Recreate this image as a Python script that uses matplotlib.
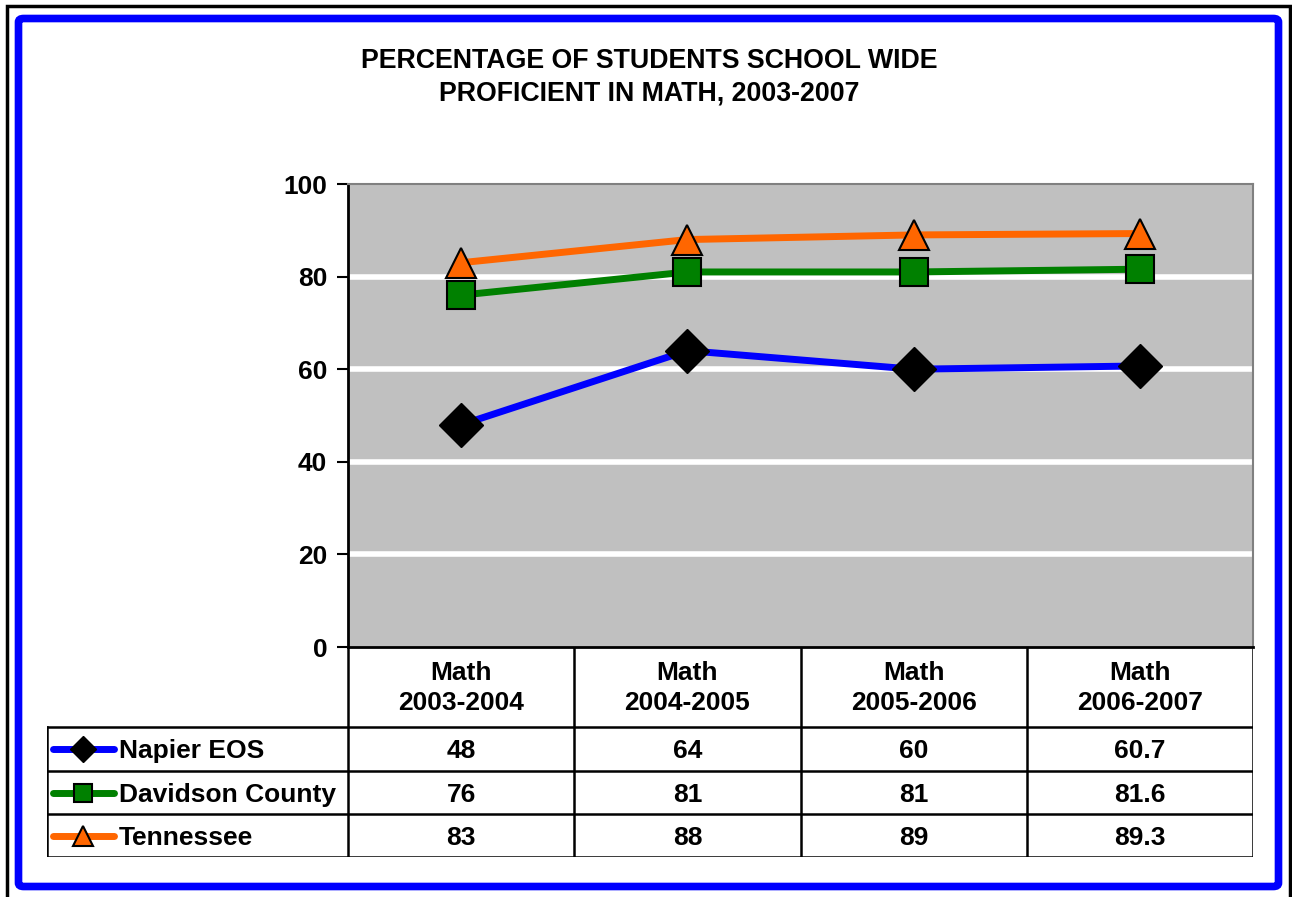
import numpy as np
import matplotlib.pyplot as plt
from matplotlib.patches import FancyBboxPatch, Rectangle
from matplotlib.lines import Line2D

plt.rcParams['font.family'] = ['Liberation Sans', 'DejaVu Sans']
plt.rcParams['font.weight'] = 'bold'

# data
categories = ['Math\n2003-2004', 'Math\n2004-2005', 'Math\n2005-2006', 'Math\n2006-2007']
series_names = ['Napier EOS', 'Davidson County', 'Tennessee']
napier = [48, 64, 60, 60.7]
davidson = [76, 81, 81, 81.6]
tennessee = [83, 88, 89, 89.3]
value_labels = [['48', '64', '60', '60.7'],
                ['76', '81', '81', '81.6'],
                ['83', '88', '89', '89.3']]
yticks = [0, 20, 40, 60, 80, 100]

W, H = 1292, 897
FS = 19
fig = plt.figure(figsize=(W / 100, H / 100), dpi=100)

# page borders
fig.add_artist(Rectangle((6.5 / W, -0.1), (1290 - 6.5) / W, (H - 6.0) / H + 0.1,
                         transform=fig.transFigure, fill=False, ec='black', lw=2.5))
fig.add_artist(FancyBboxPatch((18.5 / W, (H - 886.5) / H), (1278.5 - 18.5) / W, (886.5 - 18.5) / H,
                              boxstyle='round,pad=0,rounding_size=0.004',
                              transform=fig.transFigure, fill=False, ec='#0000FF', lw=5.5))

fig.text(649 / W, 1 - 77 / H, 'PERCENTAGE OF STUDENTS SCHOOL WIDE\nPROFICIENT IN MATH, 2003-2007',
         ha='center', va='center', fontsize=19.3, fontweight='bold', linespacing=1.32)

# plot area
px0, px1, py0, py1 = 348, 1253, 184, 647
ax = fig.add_axes([px0 / W, 1 - py1 / H, (px1 - px0) / W, (py1 - py0) / H])
ax.set_facecolor('#C0C0C0')
ax.set_xlim(-0.5, len(categories) - 0.5)
ax.set_ylim(0, 100)
ax.set_yticks(yticks)
ax.set_yticklabels([str(t) for t in yticks], fontsize=FS, fontweight='bold')
ax.tick_params(axis='y', length=8, width=1.5, direction='out', pad=7)
ax.set_xticks([])
for t in yticks[1:-1]:
    ax.axhline(t, color='white', lw=4, zorder=1)
ax.spines['left'].set_linewidth(2)
ax.spines['bottom'].set_linewidth(2)
ax.spines['top'].set_color('#808080')
ax.spines['right'].set_color('#808080')
ax.spines['top'].set_linewidth(1.5)
ax.spines['right'].set_linewidth(1.5)

x = np.arange(len(categories))
styles = [
    dict(color='#0000FF', marker='D', markersize=22, markerfacecolor='black', markeredgecolor='black'),
    dict(color='#008000', marker='s', markersize=20, markerfacecolor='#008000', markeredgecolor='black', markeredgewidth=1.5),
    dict(color='#FF6600', marker='^', markersize=21, markerfacecolor='#FF6600', markeredgecolor='black', markeredgewidth=1.5),
]
for vals, st in zip([napier, davidson, tennessee], styles):
    ax.plot(x, vals, lw=5, zorder=3, clip_on=False, **st)

# data table below the plot
tx0, ty0, ty1 = 47, 647, 857
tax = fig.add_axes([tx0 / W, 1 - ty1 / H, (px1 - tx0) / W, (ty1 - ty0) / H])
tax.set_xlim(tx0, px1)
tax.set_ylim(ty1, ty0)
tax.axis('off')
col_edges = np.linspace(px0, px1, len(categories) + 1)
row_edges = [727, 771, 814, 857]
lk = dict(color='black', lw=1.8, solid_capstyle='projecting')
for cx in col_edges:
    tax.plot([cx, cx], [ty0, ty1], **lk)
for ry in row_edges:
    tax.plot([tx0, px1], [ry, ry], **lk)
tax.plot([tx0, tx0], [row_edges[0], ty1], **lk)

legend_sizes = [13, 13, 15]
centers = (col_edges[:-1] + col_edges[1:]) / 2
for cx, lab in zip(centers, categories):
    tax.text(cx, (ty0 + row_edges[0]) / 2 + 1, lab, ha='center', va='center',
             fontsize=FS, fontweight='bold', linespacing=1.35)
for i, name in enumerate(series_names):
    ymid = (row_edges[i] + row_edges[i + 1]) / 2
    st = dict(styles[i])
    st['markersize'] = legend_sizes[i]
    tax.add_line(Line2D([53, 114], [ymid, ymid], lw=5, solid_capstyle='round', **{k: v for k, v in st.items() if k != 'marker'}))
    tax.plot([83.5], [ymid], linestyle='none', **st)
    tax.text(119, ymid + 2, name, ha='left', va='center', fontsize=FS, fontweight='bold')
    for cx, v in zip(centers, value_labels[i]):
        tax.text(cx, ymid + 2, v, ha='center', va='center', fontsize=FS, fontweight='bold')

fig.savefig('out.png', dpi=100)
